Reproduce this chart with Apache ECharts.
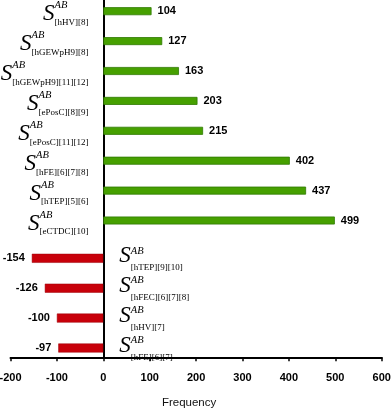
<!DOCTYPE html>
<html>
<head>
<meta charset="utf-8">
<script src="https://cdn.jsdelivr.net/npm/echarts@6/dist/echarts.min.js"></script>
<style>html,body{margin:0;padding:0;background:#fff}#c{width:392px;height:411px}</style>
</head>
<body>
<div id="c"></div>
<script>
// ---- data ----
var posCategories = ['[hHV][8]', '[hGEWpH9][8]', '[hGEWpH9][11][12]', '[ePosC][8][9]', '[ePosC][11][12]', '[hFE][6][7][8]', '[hTEP][5][6]', '[eCTDC][10]'];
var posValues = [104, 127, 163, 203, 215, 402, 437, 499];
var negCategories = ['[hTEP][9][10]', '[hFEC][6][7][8]', '[hHV][7]', '[hFE][6][7]'];
var negValues = [-154, -126, -100, -97];
var xMin = -200, xMax = 600, xInterval = 100;
var xName = 'Frequency';
var symbolMain = 'S';
var symbolSup = 'AB';

// ---- layout ----
var W = 392;
var L = 10.5, R = 10.3;
var zeroX = L + (0 - xMin) / (xMax - xMin) * (W - L - R);
var band = 29.9;
var serif = '"Liberation Serif", "DejaVu Serif", serif';
var sans = '"Liberation Sans", Arial, sans-serif';
var clear = 'rgba(0,0,0,0)';
var sSize = 23, subSize = 9, abSize = 10.5;

// two-line labels: superscript (line 1) and subscript (line 2); the big S is a ghost here
var richScripts = {
  g: { fontFamily: serif, fontStyle: 'italic', fontSize: sSize, color: clear, lineHeight: 1 },
  ab: { fontFamily: serif, fontStyle: 'italic', fontSize: abSize, color: '#000', lineHeight: 11 },
  gsub: { fontFamily: serif, fontSize: subSize, color: clear, lineHeight: 1 },
  s: { fontFamily: serif, fontStyle: 'italic', fontSize: sSize, color: clear, lineHeight: 6, verticalAlign: 'top' },
  sub: { fontFamily: serif, fontSize: subSize, color: '#000', lineHeight: 12, verticalAlign: 'bottom' },
  gab: { fontFamily: serif, fontStyle: 'italic', fontSize: abSize, color: clear, lineHeight: 16 }
};
function fmtScripts(v) {
  return '{g|' + symbolMain + '}{ab|' + symbolSup + '}{gsub|' + v + '}\n' +
         '{s|' + symbolMain + '}{sub|' + v + '}{gab|' + symbolSup + '}';
}
// one-line labels: only the big italic S, followed by invisible spacing of the same width
var richMain = {
  s: { fontFamily: serif, fontStyle: 'italic', fontSize: sSize, color: '#000' },
  gsub: { fontFamily: serif, fontSize: subSize, color: clear },
  gab: { fontFamily: serif, fontStyle: 'italic', fontSize: abSize, color: clear }
};
function fmtMain(v) {
  return '{s|' + symbolMain + '}{gsub|' + v + '}{gab|' + symbolSup + '}';
}

function catAxis(gi, data, pos, margin, label) {
  return Object.assign({
    type: 'category', gridIndex: gi, data: data, inverse: true, position: pos,
    axisLine: { show: false, onZero: false }, axisTick: { show: false }, splitLine: { show: false }
  }, { axisLabel: Object.assign({ show: true, interval: 0, margin: margin }, label) });
}

var chart = echarts.init(document.getElementById('c'), null, { renderer: 'canvas' });
var gridBase = { containLabel: false, outerBoundsMode: 'none' };
chart.setOption({
  animation: false,
  backgroundColor: '#fff',
  grid: [
    Object.assign({ left: L, right: R, top: 0, bottom: 53.7 }, gridBase),
    Object.assign({ left: zeroX, right: R, top: 11.2 - band / 2, height: band * posCategories.length }, gridBase),
    Object.assign({ left: L, right: W - zeroX, top: 258.3 - band / 2, height: band * negCategories.length }, gridBase)
  ],
  xAxis: [
    {
      type: 'value', gridIndex: 0, min: xMin, max: xMax, interval: xInterval,
      axisLine: { show: true, onZero: false, lineStyle: { color: '#000', width: 2 } },
      axisTick: { show: true, length: 4, lineStyle: { color: '#000', width: 1.5 } },
      splitLine: { show: false },
      axisLabel: { margin: 15, fontFamily: sans, fontWeight: 'bold', fontSize: 11, color: '#000' },
      name: xName, nameLocation: 'middle', nameGap: 40,
      nameTextStyle: { fontFamily: sans, fontSize: 11.5, color: '#111', padding: [0, 14, 0, 0] }
    },
    { type: 'value', gridIndex: 1, min: 0, max: xMax, show: false },
    { type: 'value', gridIndex: 2, min: xMin, max: 0, show: false }
  ],
  yAxis: [
    {
      type: 'value', gridIndex: 0, min: 0, max: 1,
      axisLine: { show: true, onZero: true, lineStyle: { color: '#000', width: 2 } },
      axisTick: { show: false }, axisLabel: { show: false }, splitLine: { show: false }
    },
    catAxis(1, posCategories, 'left', 2, { formatter: fmtScripts, rich: richScripts, padding: [5, 0, 0, 0] }),
    catAxis(2, negCategories, 'right', 16, { formatter: fmtScripts, rich: richScripts, padding: [1, 0, 0, 0] }),
    catAxis(1, posCategories, 'left', 2, { formatter: fmtMain, rich: richMain, padding: [6, 0, 0, 0] }),
    catAxis(2, negCategories, 'right', 16, { formatter: fmtMain, rich: richMain, padding: [0, 0, 4, 0] })
  ],
  series: [
    {
      type: 'bar', xAxisIndex: 1, yAxisIndex: 1, data: posValues, barWidth: 8,
      itemStyle: { color: '#46A000', borderColor: '#2F7A00', borderWidth: 0.8 },
      label: { show: true, position: 'right', distance: 6, fontFamily: sans, fontWeight: 'bold', fontSize: 11, color: '#000' }
    },
    {
      type: 'bar', xAxisIndex: 2, yAxisIndex: 2, data: negValues, barWidth: 9,
      itemStyle: { color: '#C8000A', borderColor: '#9a0008', borderWidth: 0.5 },
      label: { show: true, position: 'left', distance: 7, fontFamily: sans, fontWeight: 'bold', fontSize: 11, color: '#000' }
    }
  ]
});
</script>
</body>
</html>
